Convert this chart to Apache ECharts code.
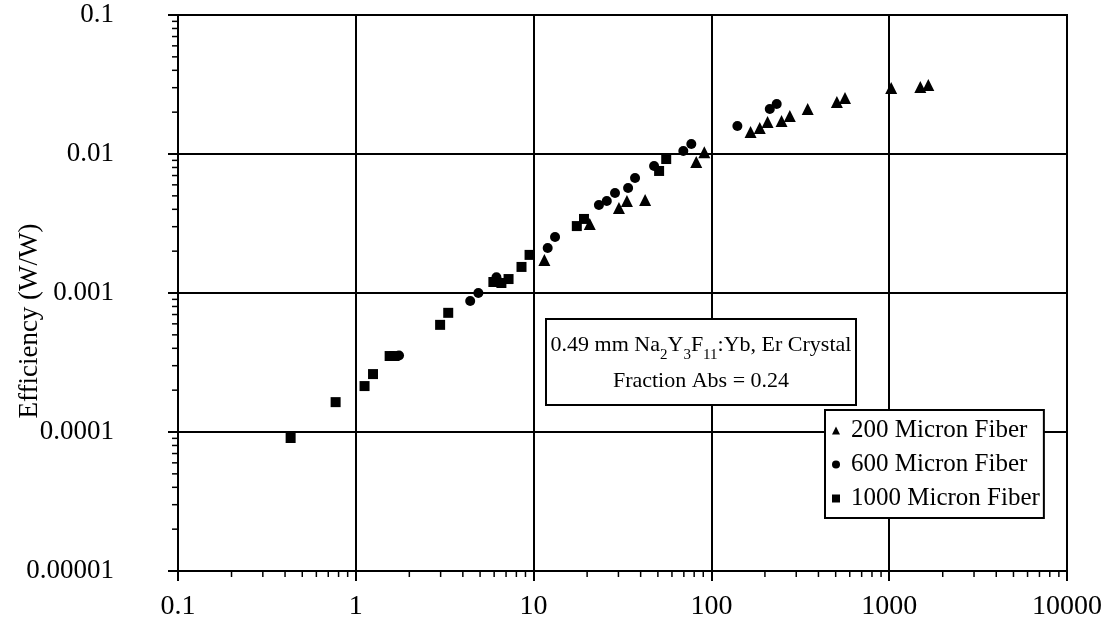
<!DOCTYPE html>
<html>
<head>
<meta charset="utf-8">
<script src="https://cdn.jsdelivr.net/npm/echarts@6/dist/echarts.min.js"></script>
<style>
  html, body { margin: 0; padding: 0; background: #fff; }
  #chart { width: 1111px; height: 636px; }
</style>
</head>
<body>
<div id="chart"></div>
<script>
// Pump power (W) vs. upconversion efficiency (W/W), per fiber diameter
const fiber200 = [
  [11.5, 1.73e-3], [20.7, 3.13e-3], [30.2, 4.09e-3], [33.5, 4.59e-3], [42.4, 4.67e-3],
  [82.2, 8.75e-3], [91.2, 1.03e-2], [166, 1.44e-2], [187, 1.54e-2], [207, 1.70e-2],
  [248, 1.73e-2], [276, 1.88e-2], [348, 2.11e-2], [508, 2.37e-2], [564, 2.53e-2],
  [1026, 2.99e-2], [1496, 3.03e-2], [1660, 3.13e-2]
];
const fiber600 = [
  [1.75, 3.55e-4], [4.40, 8.75e-4], [4.89, 1.0e-3], [6.18, 1.30e-3], [12.0, 2.11e-3],
  [13.2, 2.53e-3], [23.3, 4.29e-3], [25.8, 4.59e-3], [28.7, 5.24e-3], [34.0, 5.69e-3],
  [37.2, 6.71e-3], [47.6, 8.2e-3], [69.5, 1.05e-2], [77.1, 1.18e-2], [140, 1.59e-2],
  [213, 2.11e-2], [233, 2.29e-2]
];
const fiber1000 = [
  [0.43, 9.05e-5], [0.77, 1.64e-4], [1.12, 2.14e-4], [1.25, 2.61e-4], [1.55, 3.52e-4],
  [1.65, 3.52e-4], [2.98, 5.9e-4], [3.31, 7.2e-4], [5.94, 1.20e-3], [6.59, 1.18e-3],
  [7.23, 1.26e-3], [8.55, 1.54e-3], [9.49, 1.88e-3], [17.5, 3.03e-3], [19.2, 3.41e-3],
  [50.8, 7.55e-3], [55.7, 9.2e-3]
];
const seriesNames = ['200 Micron Fiber', '600 Micron Fiber', '1000 Micron Fiber'];
const xTickLabels = ['0.1', '1', '10', '100', '1000', '10000'];   // decades -1 .. 4
const yTickLabels = ['0.00001', '0.0001', '0.001', '0.01', '0.1']; // decades -5 .. -1
const yTitle = 'Efficiency (W/W)';

const X_MIN = 0.1, X_MAX = 10000, Y_MIN = 0.00001, Y_MAX = 0.1;
const FONT = '"Liberation Serif", "Times New Roman", serif';

// minor ticks at 2..9 of every decade (log axis minor ticks are linear in ECharts)
const xMinor = [], yMinor = [];
for (let k = -1; k <= 3; k++) for (let m = 2; m <= 9; m++) xMinor.push([m * Math.pow(10, k)]);
for (let k = -5; k <= -2; k++) for (let m = 2; m <= 9; m++) yMinor.push([m * Math.pow(10, k)]);

function decadeLabel(labels, firstExp) {
  return v => {
    const i = Math.round(Math.log10(v)) - firstExp;
    return labels[i] !== undefined ? labels[i] : '';
  };
}

const chart = echarts.init(document.getElementById('chart'), null, { renderer: 'canvas' });

const tickLine = { stroke: '#000', lineWidth: 1.5 };
const markStyle = { color: '#000', opacity: 1 };

chart.setOption({
  backgroundColor: '#fff',
  animation: false,
  grid: {
    left: 178, right: 44, top: 15, bottom: 65,
    outerBoundsMode: 'none', containLabel: false,
    show: true, borderColor: '#000', borderWidth: 2, backgroundColor: 'transparent'
  },
  xAxis: {
    type: 'log', logBase: 10, min: X_MIN, max: X_MAX,
    axisLine: { show: true, lineStyle: { color: '#000', width: 2 } },
    axisTick: { show: true, inside: false, length: 10, lineStyle: { color: '#000', width: 2 } },
    splitLine: { show: true, lineStyle: { color: '#000', width: 2 } },
    axisLabel: {
      formatter: decadeLabel(xTickLabels, -1), margin: 22,
      color: '#000', fontFamily: FONT, fontSize: 28
    }
  },
  yAxis: {
    type: 'log', logBase: 10, min: Y_MIN, max: Y_MAX,
    axisLine: { show: true, lineStyle: { color: '#000', width: 2 } },
    axisTick: { show: true, inside: false, length: 10, lineStyle: { color: '#000', width: 2 } },
    splitLine: { show: true, lineStyle: { color: '#000', width: 2 } },
    axisLabel: {
      formatter: decadeLabel(yTickLabels, -5), margin: 64,
      color: '#000', fontFamily: FONT, fontSize: 27
    }
  },
  legend: {
    orient: 'vertical', left: 825, top: 410,
    data: [
      { name: seriesNames[0], icon: 'triangle' },
      { name: seriesNames[1], icon: 'circle' },
      { name: seriesNames[2], icon: 'rect' }
    ],
    itemWidth: 8, itemHeight: 8, itemGap: 9,
    padding: [8, 4, 7, 7],
    backgroundColor: '#fff', borderColor: '#000', borderWidth: 2, borderRadius: 0,
    textStyle: { color: '#000', fontFamily: FONT, fontSize: 25, padding: [0, 0, 0, 6] }
  },
  graphic: [
    // rotated y-axis title
    { type: 'text', x: 30, y: 321, rotation: Math.PI / 2,
      style: { text: yTitle, fontFamily: FONT, fontSize: 27, fill: '#000',
               align: 'center', verticalAlign: 'middle' } },
    // sample description box
    { type: 'group', left: 545, top: 318,
      children: [
        { type: 'rect', shape: { x: 0, y: 0, width: 310, height: 86 },
          style: { fill: '#fff', stroke: '#000', lineWidth: 2 }, z: 100 },
        { type: 'text', x: 155, y: 44, z: 101,
          style: {
            text: '{n|0.49 mm Na}{s|2}{n|Y}{s|3}{n|F}{s|11}{n|:Yb, Er Crystal}\n{n|Fraction Abs = 0.24}',
            align: 'center', verticalAlign: 'middle',
            rich: {
              n: { fontFamily: FONT, fontSize: 22, fill: '#000', lineHeight: 36, verticalAlign: 'middle' },
              s: { fontFamily: FONT, fontSize: 15, fill: '#000', lineHeight: 36, verticalAlign: 'bottom' }
            }
          } }
      ] }
  ],
  series: [
    { name: seriesNames[0], type: 'scatter', data: fiber200, symbol: 'triangle', symbolSize: 12,
      itemStyle: markStyle, z: 5 },
    { name: seriesNames[1], type: 'scatter', data: fiber600, symbol: 'circle', symbolSize: 10,
      itemStyle: markStyle, z: 5 },
    { name: seriesNames[2], type: 'scatter', data: fiber1000, symbol: 'rect', symbolSize: 10,
      itemStyle: markStyle, z: 5 },
    // short minor ticks under the x axis
    { type: 'custom', silent: true, clip: false, data: xMinor, z: 3,
      renderItem: (params, api) => {
        const p = api.coord([api.value(0), Y_MIN]);
        return { type: 'line', shape: { x1: p[0], y1: p[1], x2: p[0], y2: p[1] + 6 }, style: tickLine };
      } },
    // short minor ticks left of the y axis
    { type: 'custom', silent: true, clip: false, data: yMinor, z: 3,
      renderItem: (params, api) => {
        const p = api.coord([X_MIN, api.value(0)]);
        return { type: 'line', shape: { x1: p[0] - 6, y1: p[1], x2: p[0], y2: p[1] }, style: tickLine };
      } }
  ]
});
</script>
</body>
</html>
